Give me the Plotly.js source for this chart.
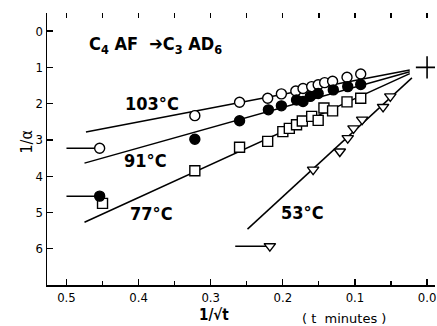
<!DOCTYPE html>
<html>
<head>
<meta charset="utf-8">
<script src="https://cdn.plot.ly/plotly-3.0.1.min.js"></script>
<style>html,body{margin:0;padding:0;background:#fff;}#chart{width:437px;height:326px;}</style>
</head>
<body>
<div id="chart"></div>
<script>
// 103 °C (open circles)
const x103 = [0.322, 0.260, 0.221, 0.202, 0.182, 0.172, 0.160, 0.151, 0.142, 0.131, 0.111, 0.092];
const y103 = [2.33, 1.96, 1.85, 1.73, 1.65, 1.58, 1.53, 1.48, 1.42, 1.38, 1.27, 1.18];
// 91 °C (filled circles)
const x91 = [0.322, 0.260, 0.220, 0.202, 0.181, 0.172, 0.162, 0.151, 0.130, 0.110, 0.092];
const y91 = [2.98, 2.47, 2.17, 2.06, 1.90, 1.94, 1.80, 1.72, 1.62, 1.53, 1.47];
// 77 °C (open squares)
const x77 = [0.322, 0.260, 0.221, 0.200, 0.191, 0.181, 0.173, 0.160, 0.151, 0.143, 0.131, 0.111, 0.092];
const y77 = [3.85, 3.20, 3.04, 2.77, 2.68, 2.58, 2.48, 2.35, 2.46, 2.12, 2.20, 1.95, 1.85];
// 53 °C (down triangles)
const x53 = [0.158, 0.121, 0.110, 0.102, 0.090, 0.061, 0.051];
const y53 = [3.82, 3.32, 2.95, 2.68, 2.44, 2.09, 1.80];

// early-time points (with horizontal lead lines)
const early103 = {x: [0.500, 0.454], y: [3.23, 3.23]};
const early91 = {x: [0.500, 0.454], y: [4.55, 4.55]};
const early77 = {x: [0.450], y: [4.75]};
const early53 = {x: [0.266, 0.218], y: [5.93, 5.93]};

// fitted lines (end points)
const fit103 = {x: [0.473, 0.024], y: [2.78, 1.07]};
const fit91 = {x: [0.475, 0.024], y: [3.64, 1.12]};
const fit77 = {x: [0.475, 0.024], y: [5.27, 1.17]};
const fit53 = {x: [0.249, 0.021], y: [5.46, 1.29]};

// extrapolated intercept
const intercept = {x: [0.0], y: [1.0]};

const xTicks = [0.5, 0.4, 0.3, 0.2, 0.1, 0.0];
const xTickText = ['0.5', '0.4', '0.3', '0.2', '0.1', '0.0'];
const yTicks = [0, 1, 2, 3, 4, 5, 6];

const seriesLabels = [
  {text: '103°C', x: 0.382, y: 2.0},
  {text: '91°C', x: 0.390, y: 3.58},
  {text: '77°C', x: 0.382, y: 5.04},
  {text: '53°C', x: 0.173, y: 4.99}
];

const K = '#000';
const lineStyle = {color: K, width: 1.5};
const mk = (symbol, fill) => ({symbol: symbol, size: 10, color: fill, line: {color: K, width: 1.4}});

const traces = [];
[fit103, fit91, fit77, fit53].forEach(f => traces.push({x: f.x, y: f.y, mode: 'lines', line: lineStyle, hoverinfo: 'skip'}));
[early103, early91, early53].forEach(e => traces.push({x: e.x, y: e.y, mode: 'lines', line: lineStyle, hoverinfo: 'skip'}));
traces.push({x: x103, y: y103, mode: 'markers', marker: mk('circle', '#fff')});
traces.push({x: [early103.x[1]], y: [early103.y[1]], mode: 'markers', marker: mk('circle', '#fff')});
traces.push({x: x77, y: y77, mode: 'markers', marker: mk('square', '#fff')});
traces.push({x: early77.x, y: early77.y, mode: 'markers', marker: mk('square', '#fff')});
traces.push({x: x91, y: y91, mode: 'markers', marker: mk('circle', K)});
traces.push({x: [early91.x[1]], y: [early91.y[1]], mode: 'markers', marker: mk('circle', K)});
traces.push({x: x53, y: y53, mode: 'markers', marker: mk('triangle-down', '#fff')});
traces.push({x: [early53.x[1]], y: [early53.y[1]], mode: 'markers', marker: mk('triangle-down', '#fff')});
traces.push({x: intercept.x, y: intercept.y, mode: 'markers', marker: {symbol: 'cross-thin', size: 16, line: {color: K, width: 1.6}}});
// dummy trace for top tick axis
traces.push({x: [0.3], y: [3], xaxis: 'x2', mode: 'markers', marker: {opacity: 0}, hoverinfo: 'skip'});

const FONT = 'DejaVu Sans Condensed, DejaVu Sans, sans-serif';

const annotations = seriesLabels.map(l => ({
  text: l.text, x: l.x, y: l.y, xref: 'x', yref: 'y', showarrow: false,
  xanchor: 'center', yanchor: 'middle',
  font: {family: FONT, size: 18, color: K, weight: 'bold'}
}));
annotations.push({
  text: 'C<sub>4</sub> AF  ➔C<sub>3</sub> AD<sub>6</sub>', x: 0.377, y: 0.37, xref: 'x', yref: 'y', showarrow: false,
  xanchor: 'center', yanchor: 'middle',
  font: {family: FONT, size: 18, color: K, weight: 'bold'}
});
annotations.push({
  text: '1/α', textangle: -90, xref: 'paper', yref: 'y', x: -0.052, y: 3.05, showarrow: false,
  xanchor: 'center', yanchor: 'middle',
  font: {family: FONT, size: 16, color: K}
});
annotations.push({
  text: '1/√t', xref: 'x', yref: 'paper', x: 0.296, y: -0.11, xanchor: 'center', yanchor: 'middle', showarrow: false,
  font: {family: FONT, size: 15, color: K, weight: 'bold'}
});
annotations.push({
  text: '( t  minutes )', xref: 'x', yref: 'paper', x: 0.115, y: -0.122, xanchor: 'center', yanchor: 'middle', showarrow: false,
  font: {family: 'DejaVu Sans, sans-serif', size: 13, color: K}
});

const layout = {
  width: 437, height: 326,
  margin: {l: 47, r: 2, t: 13, b: 41},
  paper_bgcolor: '#fff', plot_bgcolor: '#fff',
  showlegend: false,
  font: {family: FONT, size: 13, color: K},
  xaxis: {
    range: [0.527, -0.011], showgrid: false, zeroline: false,
    showline: true, linecolor: K, linewidth: 1.5, mirror: false,
    ticks: 'inside', ticklen: 6, tickwidth: 1.3, tickcolor: K,
    tickvals: xTicks, ticktext: xTickText,
    minor: {ticks: 'inside', ticklen: 4, dtick: 0.05, tick0: 0, tickcolor: K, tickwidth: 1.2},
    tickfont: {family: FONT, size: 13, color: K}
  },
  xaxis2: {
    overlaying: 'x', side: 'top', range: [0.527, -0.011], showgrid: false, zeroline: false,
    showline: false, mirror: false,
    ticks: 'inside', ticklen: 5, tickwidth: 1.3, tickcolor: K,
    dtick: 0.05, tick0: 0, showticklabels: false
  },
  yaxis: {
    range: [7, -0.5], showgrid: false, zeroline: false,
    showline: true, linecolor: K, linewidth: 1.5, mirror: false,
    ticks: 'inside', ticklen: 6, tickwidth: 1.3, tickcolor: K,
    tickvals: yTicks, ticktext: yTicks.map(String),
    tickfont: {family: FONT, size: 13, color: K}
  },
  annotations: annotations
};

Plotly.newPlot('chart', traces, layout, {staticPlot: true, displayModeBar: false});
</script>
</body>
</html>
